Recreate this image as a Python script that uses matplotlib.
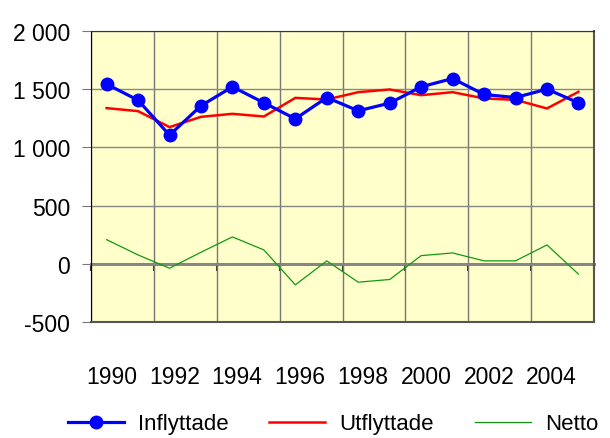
import numpy as np
import matplotlib.pyplot as plt
from matplotlib.ticker import FuncFormatter

plt.rcParams['font.family'] = ['Liberation Sans Narrow', 'Liberation Sans', 'DejaVu Sans']

years = list(range(1990, 2006))
inflyttade = [1544, 1406, 1106, 1358, 1521, 1384, 1246, 1429,
              1315, 1381, 1521, 1592, 1455, 1429, 1501, 1384]
utflyttade = [1338, 1312, 1175, 1263, 1289, 1266, 1426, 1412,
              1475, 1498, 1449, 1475, 1421, 1409, 1335, 1478]
netto = [208, 77, -37, 100, 232, 120, -180, 26,
         -157, -134, 71, 94, 26, 26, 163, -88]

fig = plt.figure(figsize=(6.1, 4.39), dpi=100)
ax = fig.add_axes([0.149, 0.264, 0.825, 0.663])
ax.set_facecolor('#FFFFCC')

x = np.arange(len(years))
ax.plot(x, inflyttade, color='#0000FF', lw=2.3, marker='o', ms=9, label='Inflyttade', zorder=4)
ax.plot(x, utflyttade, color='#FF0000', lw=1.8, label='Utflyttade', zorder=3)
ax.plot(x, netto, color='#119911', lw=0.9, label='Netto', zorder=3)

ax.set_xlim(-0.5, len(years) - 0.5)
ax.set_ylim(-500, 2000)
ax.set_yticks(np.arange(-500, 2001, 500))
ax.yaxis.set_major_formatter(FuncFormatter(lambda v, p: f'{int(v):,}'.replace(',', ' ')))

# grid
ax.set_xticks(np.arange(-0.5, len(years), 2), minor=True)
ax.grid(True, which='minor', axis='x', color='#777777', lw=1)
ax.grid(True, which='major', axis='y', color='#888888', lw=1)
ax.set_axisbelow(True)

# year labels under the plot
ax.set_xticks(x[::2] + 0.15)
ax.set_xticklabels([str(y) for y in years[::2]])
ax.tick_params(axis='x', which='both', length=0, pad=31, labelsize=16.5)
ax.tick_params(axis='y', length=6.5, color='#777777', labelsize=16.5, pad=8.5)

ax.spines['top'].set_color('#333333')
ax.spines['right'].set_color('#555555')
ax.spines['right'].set_linewidth(1.5)
ax.spines['left'].set_color('black')
ax.spines['bottom'].set_color('#555555')
ax.spines['bottom'].set_linewidth(1.5)

# category axis crossing at zero
sec = ax.secondary_xaxis(0.2)
sec.set_xticks(np.arange(-0.5, len(years), 2))
sec.set_xticklabels([])
sec.tick_params(length=5, width=1.5, color='#333333')
sec.spines['bottom'].set_color('#777777')
sec.spines['bottom'].set_linewidth(2)

fig.legend(loc='center left', bbox_to_anchor=(0.111, 0.032), ncol=3, frameon=False,
           fontsize=16, handlelength=2.52, columnspacing=1.85, handletextpad=0.63,
           borderpad=0, borderaxespad=0)

fig.savefig('out.png', dpi=100)
